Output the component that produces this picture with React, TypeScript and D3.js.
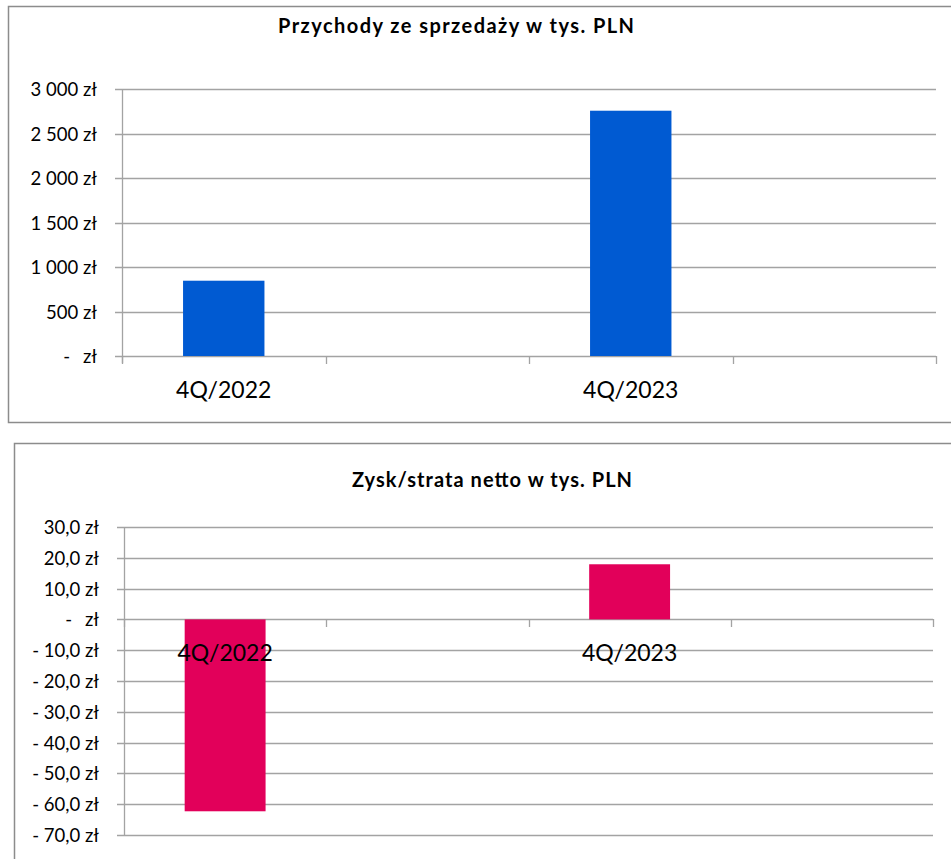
import React, { useEffect, useRef } from "react";
import * as d3 from "d3";

// categories on the x axis (empty slots are the blank bands Excel left in)
const categories = ["4Q/2022", "", "4Q/2023", ""];
// revenue in thousand PLN
const revenue = [846, null, 2756, null];
// net profit / loss in thousand PLN
const netProfit = [-62.3, null, 17.9, null];
const revenueTicks = [0, 500, 1000, 1500, 2000, 2500, 3000];
const profitTicks = [-70, -60, -50, -40, -30, -20, -10, 0, 10, 20, 30];

const FONT = "Lato, 'Open Sans', sans-serif";
const GRID = "#a3a3a3";

const fmtRevenue = (v: number) =>
  d3.format(",.0f")(v).replace(/,/g, "\u00a0") + " zł";
const fmtProfit = (v: number) =>
  (v < 0 ? "- " : "") + d3.format(".1f")(Math.abs(v)).replace(".", ",") + " zł";

function drawChart(svg: any, opts: any) {
  const { panel, title, titleX, titleY, titleW, left, right, top, bottom, domain, ticks, values, color, fmt } = opts;

  const g = svg.append("g");

  // panel frame
  g.append("rect")
    .attr("x", panel[0] + 0.5)
    .attr("y", panel[1] + 0.5)
    .attr("width", panel[2])
    .attr("height", panel[3])
    .attr("fill", "#fff")
    .attr("stroke", "#8c8c8c")
    .attr("stroke-width", 1.5);

  // title (Calibri is wider than Lato, so stretch the spacing a bit)
  g.append("text")
    .attr("x", titleX)
    .attr("y", titleY)
    .attr("text-anchor", "middle")
    .attr("font-family", FONT)
    .attr("font-weight", "bold")
    .attr("font-size", 20)
    .attr("textLength", titleW)
    .attr("lengthAdjust", "spacing")
    .attr("fill", "#000")
    .text(title);

  const x = d3.scaleBand<number>()
    .domain(d3.range(categories.length))
    .range([left, right])
    .padding(0);

  const y = d3.scaleLinear()
    .domain(domain)
    .range([bottom, top]);

  const y0 = Math.round(y(0));

  // gridlines + y ticks
  ticks.forEach((t: number) => {
    const yy = Math.round(y(t)) + 0.5;
    g.append("line")
      .attr("x1", left - 7).attr("x2", right)
      .attr("y1", yy).attr("y2", yy)
      .attr("stroke", GRID).attr("stroke-width", 1.3);

    if (t === 0) {
      g.append("text")
        .attr("x", left - 25).attr("y", yy + 6.5)
        .attr("text-anchor", "end")
        .attr("font-family", FONT).attr("font-size", 18.5)
        .text("zł");
      g.append("text")
        .attr("x", left - 52).attr("y", yy + 6.5)
        .attr("text-anchor", "end")
        .attr("font-family", FONT).attr("font-size", 18.5)
        .text("-");
    } else {
      g.append("text")
        .attr("x", left - 25).attr("y", yy + 6.5)
        .attr("text-anchor", "end")
        .attr("font-family", FONT).attr("font-size", 18.5)
        .text(fmt(t));
    }
  });

  // vertical axis line
  g.append("line")
    .attr("x1", left + 0.5).attr("x2", left + 0.5)
    .attr("y1", y(domain[1])).attr("y2", Math.max(y(domain[0]), y0 + 7))
    .attr("stroke", GRID).attr("stroke-width", 1.3);

  // category ticks on the zero line
  const edges = categories.map((_, i) => x(i) as number).concat([right]);
  edges.forEach((ex) => {
    g.append("line")
      .attr("x1", Math.round(ex) + 0.5).attr("x2", Math.round(ex) + 0.5)
      .attr("y1", y0).attr("y2", y0 + 8)
      .attr("stroke", GRID).attr("stroke-width", 1.3);
  });

  // bars
  const bw = x.bandwidth() / 2.5;
  values.forEach((v: number | null, i: number) => {
    if (v == null) return;
    const cx = (x(i) as number) + x.bandwidth() / 2;
    g.append("rect")
      .attr("x", cx - bw / 2)
      .attr("y", Math.min(y(v), y(0)))
      .attr("width", bw)
      .attr("height", Math.abs(y(v) - y(0)))
      .attr("fill", color);
  });

  // category labels
  categories.forEach((c, i) => {
    if (!c) return;
    g.append("text")
      .attr("x", (x(i) as number) + x.bandwidth() / 2)
      .attr("y", y0 + 42)
      .attr("text-anchor", "middle")
      .attr("font-family", FONT)
      .attr("font-size", 23)
      .attr("fill", "#000")
      .text(c);
  });
}

export default function App() {
  const ref = useRef<SVGSVGElement>(null);

  useEffect(() => {
    const svg = d3.select(ref.current);
    svg.selectAll("*").remove();

    drawChart(svg, {
      panel: [8, 6, 960, 416],
      title: "Przychody ze sprzedaży w tys. PLN",
      titleX: 456, titleY: 33, titleW: 356,
      left: 122, right: 936, top: 89, bottom: 356,
      domain: [0, 3000],
      ticks: revenueTicks,
      values: revenue,
      color: "#005AD2",
      fmt: fmtRevenue,
    });

    drawChart(svg, {
      panel: [14, 443, 960, 430],
      title: "Zysk/strata netto w tys. PLN",
      titleX: 492, titleY: 487, titleW: 280,
      left: 124, right: 933, top: 527, bottom: 835,
      domain: [-70, 30],
      ticks: profitTicks,
      values: netProfit,
      color: "#E2005A",
      fmt: fmtProfit,
    });
  }, []);

  return (
    <svg
      ref={ref}
      width={951}
      height={859}
      style={{ position: "absolute", left: 0, top: 0, background: "#fff" }}
    />
  );
}
